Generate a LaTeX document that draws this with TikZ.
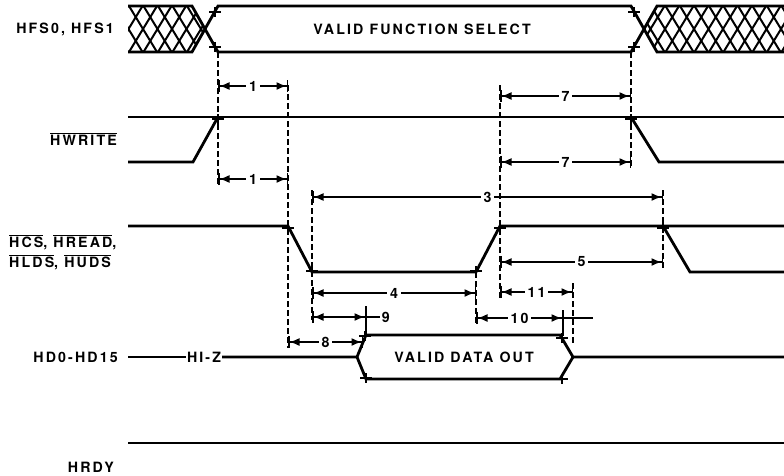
\documentclass[tikz,border=0pt]{standalone}
\usepackage{fontspec}
\setmainfont{TeX Gyre Heros}[LetterSpace=15]
\usepackage{tikz}
\usetikzlibrary{arrows.meta}
\newcommand{\ovl}[1]{$\overline{\mbox{#1}}$}

\tikzset{
    sig/.style={line width=2.8pt},
    guide/.style={line width=1.3pt, dash pattern=on 6pt off 3pt},
    dimline/.style={line width=1.5pt, {Bar[width=12pt,line width=1.5pt]Latex[length=10pt,width=8pt]}-{Latex[length=10pt,width=8pt]Bar[width=12pt,line width=1.5pt]}},
    lbl/.style={font=\bfseries\fontsize{14.2}{20}\selectfont, inner sep=1pt},
    num/.style={lbl, fill=white, inner xsep=3pt},
    tck/.pic={\draw[line width=1.7pt] (-6,0) -- (6,0) (0,-5) -- (0,5);}
}

\begin{document}
\begin{tikzpicture}[x=1pt, y=-1pt]
    \useasboundingbox (0,0) rectangle (784,475);
    % signal names
    \node[lbl, anchor=east] (hfs) at (115,29) {HFS0, HFS1};
    \node[lbl, anchor=east] (hwr) at (118,139) {\ovl{HWRITE}};
    \node[lbl, anchor=west, align=left] (hcs) at (8,252) {\ovl{HCS}, \ovl{HREAD},\\\ovl{HLDS}, \ovl{HUDS}};
    \node[lbl, anchor=east] (hd) at (119,357) {HD0-HD15};
    \node[lbl, anchor=east] (hrdy) at (115,467) {HRDY};
    % function select
    \begin{scope}
        \clip (128,6) -- (192,6) -- (205,29) -- (192,52) -- (128,52) -- cycle
              (657,6) -- (784,6) -- (784,52) -- (657,52) -- (644,29) -- cycle;
        \foreach \x in {100,114.5,...,800}
            \draw[line width=2pt] (\x,6) -- ++(28,46) (\x+28,6) -- ++(-28,46);
    \end{scope}
    \draw[sig] (128,6) -- (192,6) -- (218,52) -- (631,52) -- (657,6) -- (784,6);
    \draw[sig] (128,52) -- (192,52) -- (218,6) -- (631,6) -- (657,52) -- (784,52);
    \node[lbl] (vfs) at (422,29) {VALID FUNCTION SELECT};
    % hwrite
    \draw[sig] (128,117) -- (784,117);
    \draw[sig] (128,162) -- (193,162) -- (218,117);
    \draw[sig] (631,117) -- (659,162) -- (784,162);
    % hcs / hread / hlds / huds
    \draw[sig] (128,226) -- (288,226) -- (312,272) -- (476,272) -- (500,226) -- (784,226);
    \draw[sig] (663,226) -- (690,272) -- (784,272);
    % data bus
    \node[lbl] (hiz) at (204,357) {HI-Z};
    \draw[sig] (128,357) -- (hiz.west);
    \draw[sig] (hiz.east) -- (357,357) -- (366,335) -- (560,335) -- (573,357) -- (784,357);
    \draw[sig] (357,357) -- (366,379) -- (560,379) -- (573,357);
    \node[lbl] (vdo) at (464,357) {VALID DATA OUT};
    % hrdy
    \draw[sig] (128,443) -- (784,443);
    % transition marks
    \foreach \p in {(215,12),(215,47),(634,12),(634,47),(218,119),(631,119),
                    (288,228),(312,271),(476,271),(500,228),(663,228),
                    (365,336),(366,378),(562,338),(562,379)}
        \pic at \p {tck};
    % guide lines
    \draw[guide] (218,52) -- (218,186);
    \draw[guide] (288,85) -- (288,348);
    \draw[guide] (312,190) -- (312,320);
    \draw[guide] (476,272) -- (476,323);
    \draw[guide] (500,85) -- (500,298);
    \draw[guide] (573,283) -- (573,343);
    \draw[guide] (631,52) -- (631,168);
    \draw[guide] (663,190) -- (663,270);
    \draw[line width=1.5pt] (366,306) -- (366,335);
    \draw[line width=1.5pt] (563,310) -- (563,336);
    % timing parameters
    \draw[dimline] (218,86) -- node[num] {1} (288,86);
    \draw[dimline] (218,179) -- node[num] {1} (288,179);
    \draw[dimline] (500,96) -- node[num] {7} (631,96);
    \draw[dimline] (500,162) -- node[num] {7} (631,162);
    \draw[dimline] (312,197) -- node[num] {3} (663,197);
    \draw[dimline] (500,262) -- node[num] {5} (663,262);
    \draw[dimline] (312,293) -- node[num] {4} (476,293);
    \draw[dimline] (500,292) -- node[num] {11} (573,292);
    \draw[dimline] (312,317) -- (366,317);
    \draw[line width=1.5pt] (366,317) -- (380,317) node[lbl, anchor=west] (n9) {9};
    \draw[dimline] (476,318) -- node[num] {10} (563,318);
    \draw[line width=1.5pt] (563,318) -- (593,318);
    \draw[dimline] (288,342) -- node[num] {8} (363,342);
\end{tikzpicture}
\end{document}
